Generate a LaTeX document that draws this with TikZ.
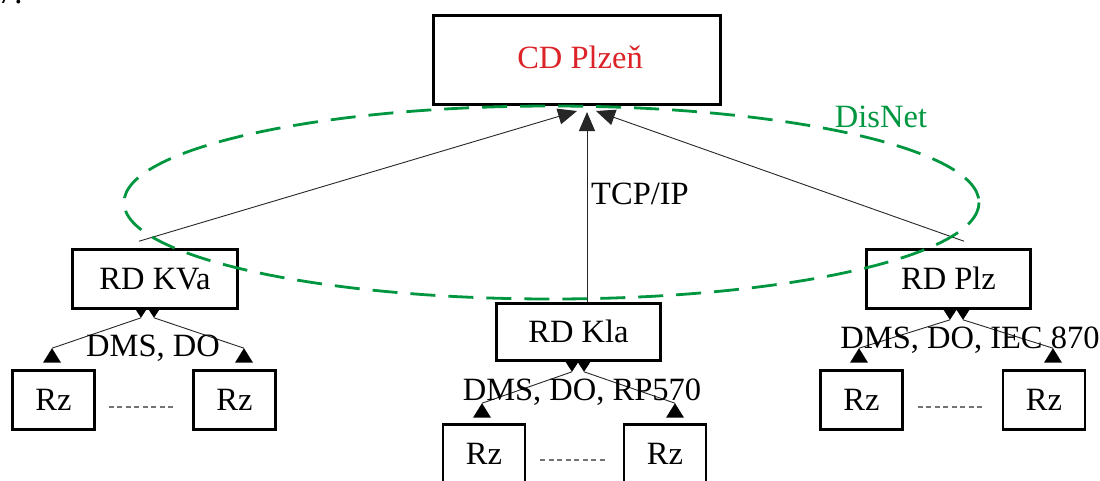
\documentclass[tikz,border=0pt]{standalone}
\usepackage{fontspec}
\setmainfont{Liberation Serif}
\usetikzlibrary{arrows.meta,calc}
\definecolor{cdred}{RGB}{220,35,40}
\definecolor{netgreen}{RGB}{0,150,64}
\newcommand\diafont{\fontsize{32.5}{38}\selectfont}
\begin{document}
\begin{tikzpicture}[x=1pt,y=-1pt,
  every node/.style={font=\diafont, text height=21.5pt, text depth=0pt, inner sep=0pt},
  box/.style={draw, line width=2.6pt, fill=white},
  rzbox/.style={box, minimum width=82pt, minimum height=59pt},
  conn/.style={black!85, line width=0.9pt},
  uparrow/.style={conn, -{Triangle[length=19pt,width=16pt]}},
  ellip/.style={gray!90!black, line width=1.4pt, dash pattern=on 5pt off 3.5pt},
  tri/.style={fill=black}
]
\useasboundingbox (0,0) rectangle (1100,480);
\clip (0,0) rectangle (1100,480);

% fragment at the top left corner
\node[anchor=base west, text height=, text depth=] (frag) at (-2,3.5) {7.};

% boxes
\node[box, line width=3pt, minimum width=287pt, minimum height=89pt] (cd) at (577,60) {};
\node[text=cdred] (cdlabel) at (580,57.5) {CD Plzeň};
\node[box, minimum width=165pt, minimum height=59pt] (kva) at (155,279) {RD KVa};
\node[box, minimum width=164pt, minimum height=57pt] (kla) at (578.5,332) {RD Kla};
\node[box, minimum width=164pt, minimum height=59pt] (plz) at (948.5,279) {RD Plz};

\node[rzbox] (rz1) at (53.5,400) {Rz};
\node[rzbox] (rz2) at (234.5,400) {Rz};
\node[rzbox] (rz3) at (484,454) {Rz};
\node[rzbox] (rz4) at (665,454) {Rz};
\node[rzbox] (rz5) at (861.5,400) {Rz};
\node[rzbox] (rz6) at (1044,400) {Rz};

% connector end points
\coordinate (cdA) at ($(cd.south)+(0,5)$);
\coordinate (cdB) at ($(cd.south)+(10,6)$);
\coordinate (cdC) at ($(cd.south)+(19,5)$);
\coordinate (kvaT) at ($(kva.north)+(-16,-7)$);
\coordinate (klaT) at ($(kla.north)+(8.5,0)$);
\coordinate (plzT) at ($(plz.north)+(15.5,-7)$);

\draw[uparrow] (kvaT) -- (cdA);
\draw[uparrow] (klaT) -- (cdB);
\draw[uparrow] (plzT) -- (cdC);

% lower connectors
\coordinate (kvaL) at ($(kva.south)+(-14,8)$);
\coordinate (kvaR) at ($(kva.south)+(-1,8)$);
\coordinate (rz1T) at ($(rz1.north)+(-1.5,-21)$);
\coordinate (rz2T) at ($(rz2.north)+(9.5,-21)$);
\coordinate (klaL) at ($(kla.south)+(-6.5,10)$);
\coordinate (klaR) at ($(kla.south)+(5.5,10)$);
\coordinate (rz3T) at ($(rz3.north)+(-2,-20)$);
\coordinate (rz4T) at ($(rz4.north)+(10,-20)$);
\coordinate (plzL) at ($(plz.south)+(1.5,10)$);
\coordinate (plzR) at ($(plz.south)+(14.5,10)$);
\coordinate (rz5T) at ($(rz5.north)+(-2.5,-21)$);
\coordinate (rz6T) at ($(rz6.north)+(9,-21)$);

\foreach \a/\b in {kvaL/rz1T, kvaR/rz2T, klaL/rz3T, klaR/rz4T, plzL/rz5T, plzR/rz6T}{
  \draw[conn] (\a) -- (\b);
  \fill[tri] (\a) ++(-6.5,-10) -- ++(13,0) -- ++(-6.5,10) -- cycle;
  \fill[tri] (\b) -- ++(9,14.5) -- ++(-18,0) -- cycle;
}

% dotted separators between Rz boxes
\draw[ellip] ($(rz1.east)+(13,7)$) -- ($(rz2.west)+(-16,7)$);
\draw[ellip] ($(rz3.east)+(14,6)$) -- ($(rz4.west)+(-16,6)$);
\draw[ellip] ($(rz5.east)+(14,7)$) -- ($(rz6.west)+(-17,7)$);

% labels
\node (l1) at (153,346) {DMS, DO};
\node (l2) at (582,390) {DMS, DO, RP570};
\node (l3) at (970,338) {DMS, DO, IEC 870};
\node (tcp) at (640,194) {TCP/IP};
\node[text=netgreen] (disnet) at (881,117) {DisNet};

% DisNet ellipse
\draw[netgreen, line width=2.8pt, dash pattern=on 25pt off 13pt] (551.5,202.5) ellipse [x radius=427.5, y radius=96.5];
\end{tikzpicture}
\end{document}
